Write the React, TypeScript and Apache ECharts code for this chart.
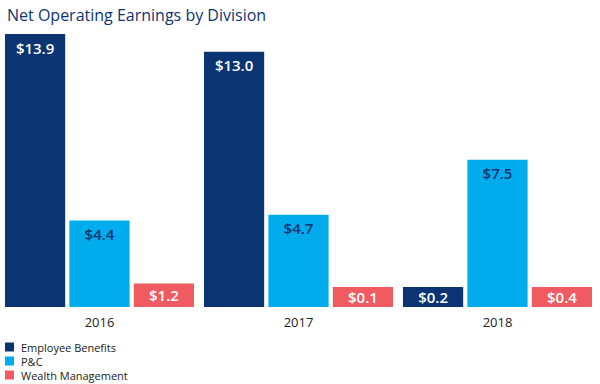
import React, { useEffect, useRef } from "react";
import * as echarts from "echarts";

const years = ["2016", "2017", "2018"];
const employeeBenefits = [13.9, 13.0, 0.2];
const pc = [4.4, 4.7, 7.5];
const wealthManagement = [1.2, 0.1, 0.4];

const NAVY = "#0b3572";
const BLUE = "#00acec";
const CORAL = "#ef5b61";
const FONT = "'Open Sans', sans-serif";

function makeSeries(name: string, values: number[], color: string, labelColor: string) {
  return {
    name,
    type: "bar",
    barCategoryGap: "5%",
    barGap: "7%",
    barMinHeight: 20,
    itemStyle: { color },
    data: values.map((v) => ({
      value: v,
      label: v < 2 ? { position: "inside" } : { position: "insideTop", distance: 6 },
    })),
    label: {
      show: true,
      color: labelColor,
      fontFamily: FONT,
      fontSize: 15,
      fontWeight: 600,
      formatter: (p: any) => "$" + Number(p.value).toFixed(1),
    },
  };
}

export default function App() {
  const ref = useRef<HTMLDivElement>(null);
  useEffect(() => {
    const chart = echarts.init(ref.current!, null, { renderer: "svg" });
    chart.setOption({
      animation: false,
      title: {
        text: "Net Operating Earnings by Division",
        left: 2,
        top: 2,
        textStyle: { color: NAVY, fontFamily: FONT, fontSize: 16, fontWeight: "normal" },
      },
      legend: {
        orient: "vertical",
        left: 5,
        top: 341,
        padding: 0,
        itemWidth: 9,
        itemHeight: 9,
        itemGap: 2,
        icon: "rect",
        textStyle: {
          color: "#222",
          fontFamily: FONT,
          fontSize: 11,
          lineHeight: 12,
          padding: [0, 0, 0, 2],
        },
        data: ["Employee Benefits", "P&C", "Wealth Management"],
      },
      grid: { left: 0, right: 3, top: 34, bottom: 77, containLabel: false },
      xAxis: {
        type: "category",
        data: years,
        axisLine: { show: false },
        axisTick: { show: false },
        axisLabel: { color: "#222", fontFamily: FONT, fontSize: 13, margin: 8 },
      },
      yAxis: { type: "value", min: 0, max: 13.9, show: false, splitLine: { show: false } },
      series: [
        makeSeries("Employee Benefits", employeeBenefits, NAVY, "#ffffff"),
        makeSeries("P&C", pc, BLUE, NAVY),
        makeSeries("Wealth Management", wealthManagement, CORAL, "#ffffff"),
      ],
    });
    return () => chart.dispose();
  }, []);
  return <div ref={ref} style={{ width: 600, height: 384, position: "absolute", left: 0, top: 0 }} />;
}
